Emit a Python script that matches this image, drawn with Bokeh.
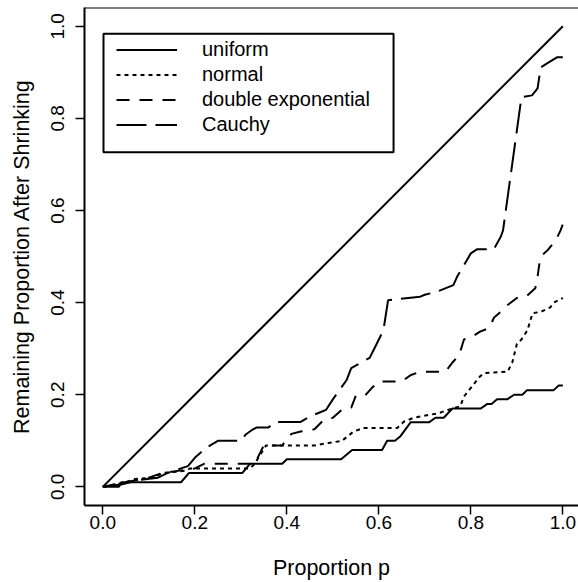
from bokeh.plotting import figure
from bokeh.models import Range1d, FixedTicker, Legend, LegendItem, Span, BoxAnnotation
from bokeh.embed import file_html
from bokeh.resources import INLINE

# ---------------- data ----------------
x_ticks = [0.0, 0.2, 0.4, 0.6, 0.8, 1.0]
x_tick_labels = ["0.0", "0.2", "0.4", "0.6", "0.8", "1.0"]
y_ticks = [0.0, 0.2, 0.4, 0.6, 0.8, 1.0]
y_tick_labels = ["0.0", "0.2", "0.4", "0.6", "0.8", "1.0"]

diag_p = [0.0, 1.0]
diag_v = [0.0, 1.0]

uniform_p = [0.0, 0.035, 0.04, 0.17, 0.187, 0.303, 0.32, 0.39, 0.40, 0.518, 0.542,
             0.607, 0.618, 0.635, 0.647, 0.669, 0.709, 0.723, 0.741, 0.76, 0.821,
             0.836, 0.845, 0.857, 0.879, 0.894, 0.912, 0.922, 0.98, 0.991, 1.0]
uniform_v = [0.0, 0.0, 0.01, 0.01, 0.03, 0.03, 0.05, 0.05, 0.06, 0.06, 0.08,
             0.08, 0.10, 0.10, 0.11, 0.14, 0.14, 0.15, 0.15, 0.17, 0.17,
             0.18, 0.18, 0.19, 0.19, 0.20, 0.20, 0.21, 0.21, 0.22, 0.22]

normal_p = [0.0, 0.05, 0.07, 0.11, 0.13, 0.18, 0.19, 0.32, 0.33, 0.355, 0.46,
            0.49, 0.52, 0.545, 0.567, 0.64, 0.655, 0.676, 0.73, 0.75, 0.777,
            0.785, 0.82, 0.83, 0.88, 0.89, 0.90, 0.91, 0.923, 0.934, 0.952,
            0.973, 0.98, 1.0]
normal_v = [0.0, 0.01, 0.017, 0.02, 0.03, 0.035, 0.04, 0.04, 0.05, 0.09, 0.09,
            0.095, 0.10, 0.12, 0.128, 0.128, 0.142, 0.15, 0.16, 0.167, 0.175,
            0.196, 0.24, 0.247, 0.25, 0.27, 0.31, 0.32, 0.34, 0.377, 0.38,
            0.39, 0.40, 0.41]

dexp_p = [0.0, 0.05, 0.10, 0.13, 0.20, 0.22, 0.33, 0.35, 0.39, 0.41, 0.43,
          0.46, 0.48, 0.50, 0.52, 0.54, 0.55, 0.57, 0.585, 0.60, 0.65, 0.67,
          0.69, 0.745, 0.76, 0.775, 0.785, 0.80, 0.82, 0.84, 0.85, 0.865,
          0.88, 0.90, 0.92, 0.94, 0.945, 0.95, 0.955, 0.967, 0.985, 0.995, 1.0]
dexp_v = [0.0, 0.01, 0.02, 0.03, 0.04, 0.05, 0.05, 0.09, 0.09, 0.115, 0.12,
          0.125, 0.145, 0.15, 0.168, 0.172, 0.198, 0.198, 0.215, 0.229, 0.229, 0.243,
          0.25, 0.25, 0.27, 0.287, 0.32, 0.324, 0.337, 0.345, 0.367, 0.38,
          0.395, 0.41, 0.413, 0.431, 0.456, 0.492, 0.503, 0.514, 0.536, 0.557, 0.57]

cauchy_p = [0.0, 0.04, 0.08, 0.12, 0.14, 0.17, 0.185, 0.20, 0.225, 0.25, 0.30,
            0.31, 0.325, 0.335, 0.36, 0.376, 0.43, 0.45, 0.47, 0.485, 0.50,
            0.53, 0.54, 0.58, 0.59, 0.61, 0.62, 0.69, 0.70, 0.727, 0.762,
            0.77, 0.80, 0.814, 0.85, 0.865, 0.87, 0.91, 0.933, 0.945, 0.952,
            0.97, 0.988, 1.0]
cauchy_v = [0.0, 0.005, 0.015, 0.02, 0.03, 0.04, 0.045, 0.063, 0.085, 0.10, 0.10,
            0.113, 0.124, 0.129, 0.129, 0.141, 0.141, 0.153, 0.161, 0.167, 0.19,
            0.232, 0.258, 0.28, 0.30, 0.34, 0.405, 0.413, 0.417, 0.424, 0.438,
            0.456, 0.507, 0.516, 0.516, 0.543, 0.557, 0.846, 0.85, 0.865, 0.911,
            0.922, 0.933, 0.933]

series_names = ["uniform", "normal", "double exponential", "Cauchy"]

# ---------------- figure ----------------
FONT = "Liberation Sans"

p = figure(width=578, height=582, output_backend="svg", toolbar_location=None,
           x_range=Range1d(-0.0398, 1.034), y_range=Range1d(-0.0405, 1.0408),
           min_border_left=84, min_border_right=0, min_border_top=7,
           min_border_bottom=76)
p.grid.visible = False
p.outline_line_color = None
p.background_fill_color = "white"
p.border_fill_color = "white"

for ax in (p.xaxis[0], p.yaxis[0]):
    ax.axis_line_width = 2
    ax.axis_line_color = "black"
    ax.major_tick_line_width = 1.5
    ax.major_tick_line_color = "black"
    ax.major_tick_out = 9
    ax.major_tick_in = 0
    ax.minor_tick_line_color = None
    ax.major_label_text_font = FONT
    ax.major_label_text_font_size = "19px"
    ax.major_label_text_color = "black"
    ax.axis_label_text_font = FONT
    ax.axis_label_text_font_size = "21.5px"
    ax.axis_label_text_font_style = "normal"
    ax.axis_label_text_color = "black"

p.xaxis.ticker = FixedTicker(ticks=x_ticks)
p.xaxis.major_label_overrides = dict(zip(x_ticks, x_tick_labels))
p.yaxis.ticker = FixedTicker(ticks=y_ticks)
p.yaxis.major_label_overrides = dict(zip(y_ticks, y_tick_labels))
p.yaxis.major_label_orientation = "vertical"

p.xaxis.axis_label = "Proportion p"
p.yaxis.axis_label = "Remaining Proportion After Shrinking"
p.xaxis.major_label_standoff = 1
p.xaxis.axis_label_standoff = 24
p.xaxis.major_label_text_line_height = 1.0
p.xaxis.axis_label_text_line_height = 1.0
p.yaxis.major_label_standoff = 11
p.yaxis.axis_label_standoff = 15

# top border of the plot box
p.add_layout(Span(location=1.0408, dimension="width", line_color="black", line_width=2))

LW = 2
p.line(diag_p, diag_v, line_color="black", line_width=LW)
r_u = p.line(uniform_p, uniform_v, line_color="black", line_width=LW)
r_n = p.line(normal_p, normal_v, line_color="black", line_width=LW, line_dash="4 4")
r_d = p.line(dexp_p, dexp_v, line_color="black", line_width=LW, line_dash="13 10")
r_c = p.line(cauchy_p, cauchy_v, line_color="black", line_width=LW, line_dash="30 9")

# legend frame (R style: extra room below the last entry)
p.add_layout(BoxAnnotation(left=0.0015, right=0.632, top=0.984, bottom=0.7265,
                           fill_color=None, fill_alpha=0, line_color="black",
                           line_width=2, line_alpha=1.0))

legend = Legend(items=[LegendItem(label=n, renderers=[r]) for n, r in
                       zip(series_names, [r_u, r_n, r_d, r_c])],
                location=(32, 368), margin=0, padding=5, spacing=0,
                glyph_width=61, glyph_height=25, label_height=25,
                label_width=170, label_standoff=25,
                label_text_font=FONT, label_text_font_size="20px",
                label_text_color="black",
                border_line_color=None,
                background_fill_color="white", background_fill_alpha=0.0)
p.add_layout(legend)

open("out.html", "w").write(file_html(p, INLINE))
